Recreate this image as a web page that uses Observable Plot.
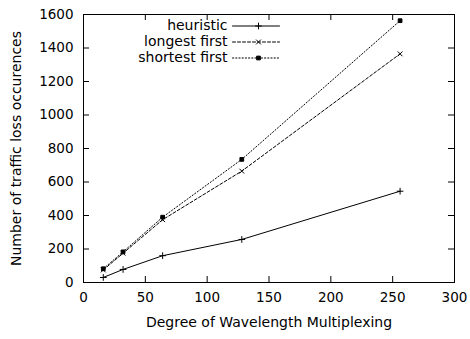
<!DOCTYPE html>
<html>
<head>
<meta charset="utf-8">
<script src="https://cdn.jsdelivr.net/npm/d3@7"></script>
<script src="https://cdn.jsdelivr.net/npm/@observablehq/plot@0.6"></script>
<style>
  html, body { margin: 0; padding: 0; background: #fff; }
  svg { display: block; }
</style>
</head>
<body>
<div id="chart"></div>
<script>
const degrees = [16, 32, 64, 128, 256];
const heuristic = [30, 78, 160, 257, 545];
const longestFirst = [75, 175, 375, 665, 1365];
const shortestFirst = [82, 183, 390, 735, 1563];
const seriesNames = ["heuristic", "longest first", "shortest first"];
const xTicks = [0, 50, 100, 150, 200, 250, 300];
const yTicks = [0, 200, 400, 600, 800, 1000, 1200, 1400, 1600];

const styles = {
  "heuristic": {dash: null, symbol: "plus", r: 2.3, fill: "none"},
  "longest first": {dash: "3,2", symbol: "times", r: 2.3, fill: "none"},
  "shortest first": {dash: "1.2,2", symbol: "square", r: 2.1, fill: "black"}
};

const seriesValues = [heuristic, longestFirst, shortestFirst];
const rows = seriesNames.flatMap((name, i) =>
  degrees.map((d, j) => ({series: name, x: d, y: seriesValues[i][j]})));

const W = 470, H = 339;
const mL = 83, mR = 16, mT = 14, mB = 57;
const pw = W - mL - mR, ph = H - mT - mB;
const tick = 6;
const font = "DejaVu Sans, Verdana, sans-serif";

const marks = [];
// inward ticks, gnuplot style, on all four sides
marks.push(Plot.tickX(xTicks, {x: d => d, insetTop: ph - tick, stroke: "black"}));
marks.push(Plot.tickX(xTicks, {x: d => d, insetBottom: ph - tick, stroke: "black"}));
marks.push(Plot.tickY(yTicks, {y: d => d, insetRight: pw - tick, stroke: "black"}));
marks.push(Plot.tickY(yTicks, {y: d => d, insetLeft: pw - tick, stroke: "black"}));
marks.push(Plot.frame({stroke: "black", strokeWidth: 1}));

seriesNames.forEach((name, i) => {
  const s = styles[name];
  const data = rows.filter(r => r.series === name);
  marks.push(Plot.line(data, {x: "x", y: "y", stroke: "black", strokeWidth: 1, strokeDasharray: s.dash}));
  marks.push(Plot.dot(data, {x: "x", y: "y", symbol: s.symbol, r: s.r, stroke: "black", fill: s.fill, strokeWidth: 1}));
  // legend entry
  const rowY = 11.5 + i * 16;
  marks.push(Plot.text([name], {text: d => d, frameAnchor: "top-left", dx: 144, dy: rowY, textAnchor: "end", lineAnchor: "middle", fill: "black", fontSize: 14}));
  marks.push(Plot.vector([name], {
    frameAnchor: "top-left", dx: 149, dy: rowY, rotate: 90, length: 47, anchor: "start",
    stroke: "black", strokeWidth: 1, strokeDasharray: s.dash,
    shape: {draw(context, l) { context.moveTo(0, 0); context.lineTo(0, -l); }}
  }));
  marks.push(Plot.dot([name], {frameAnchor: "top-left", dx: 175, dy: rowY, symbol: s.symbol, r: s.r, stroke: "black", fill: s.fill, strokeWidth: 1}));
});

marks.push(Plot.axisX({ticks: xTicks, tickSize: 0, tickPadding: 10, fontSize: 13.5, label: null}));
marks.push(Plot.axisY({ticks: yTicks, tickSize: 0, tickPadding: 10, fontSize: 13.5, tickFormat: "d", label: null}));
marks.push(Plot.axisX({ticks: [], tickSize: 0, label: "Degree of Wavelength Multiplexing", labelAnchor: "center", labelArrow: "none", labelOffset: 44, fontSize: 14}));
marks.push(Plot.axisY({ticks: [], tickSize: 0, label: "Number of traffic loss occurences", labelAnchor: "center", labelArrow: "none", labelOffset: 72, fontSize: 14}));

const chart = Plot.plot({
  width: W, height: H,
  marginLeft: mL, marginRight: mR, marginTop: mT, marginBottom: mB,
  style: {fontFamily: font, fontSize: "13.5px", color: "black", background: "white"},
  x: {domain: [0, 300]},
  y: {domain: [0, 1600]},
  marks
});
document.getElementById("chart").appendChild(chart);
</script>
</body>
</html>
